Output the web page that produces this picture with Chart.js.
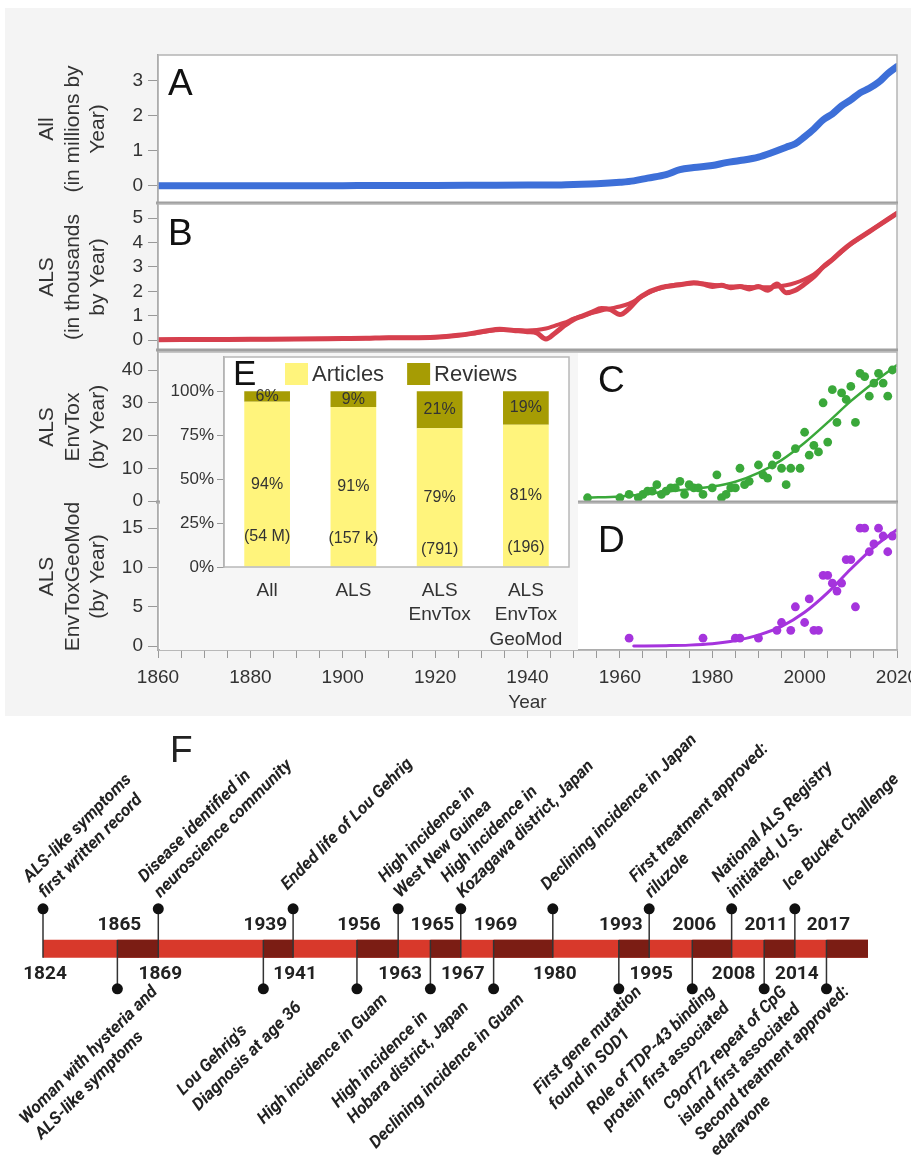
<!DOCTYPE html>
<html>
<head>
<meta charset="utf-8">
<script src="https://cdn.jsdelivr.net/npm/chart.js"></script>
<style>
  body { margin: 0; width: 911px; height: 1170px; position: relative; overflow: hidden; background: #fff; }
  #bg { position: absolute; left: 5px; top: 8px; width: 906px; height: 708px; background: #f4f4f4; }
  canvas { position: absolute; left: 0; }
</style>
</head>
<body>
<div id="bg"></div>
<canvas id="chartA" width="911" height="180" style="top:35px"></canvas>
<canvas id="chartB" width="911" height="175" style="top:190px"></canvas>
<canvas id="chartC" width="911" height="180" style="top:338px"></canvas>
<canvas id="chartD" width="911" height="227" style="top:489px"></canvas>
<canvas id="chartE" width="418" height="297" style="top:353px;left:160px"></canvas>
<canvas id="chartF" width="911" height="454" style="top:716px"></canvas>
<script>
// A: all publications (millions per year)
const yearsA = [1860,1870,1880,1890,1900,1910,1920,1930,1940,1945,1950,1955,1960,1963,1966,1970,1973,1976,1980,1983,1986,1990,1993,1996,1998,2000,2002,2004,2006,2008,2010,2012,2014,2016,2018,2020];
const allPubs = [0,0,0,0,0.005,0.01,0.01,0.015,0.02,0.02,0.04,0.06,0.1,0.14,0.22,0.32,0.46,0.52,0.58,0.66,0.72,0.82,0.95,1.1,1.2,1.4,1.62,1.88,2.05,2.28,2.45,2.65,2.78,2.95,3.2,3.4];

// B: ALS publications (thousands per year), two overlapping traces
const yearsB = [1860,1870,1880,1890,1900,1905,1910,1915,1920,1925,1928,1931,1934,1937,1940,1942,1944,1946,1948,1950,1952,1954,1956,1958,1960,1962,1964,1966,1968,1970,1972,1974,1976,1978,1980,1982,1984,1986,1988,1990,1992,1994,1996,1998,2000,2002,2004,2006,2008,2010,2012,2014,2016,2018,2020];
const alsPubs = [0.02,0.03,0.04,0.05,0.07,0.08,0.1,0.1,0.12,0.2,0.28,0.38,0.45,0.4,0.35,0.3,0.05,0.3,0.6,0.85,1.0,1.15,1.3,1.25,1.05,1.3,1.7,1.95,2.1,2.2,2.25,2.3,2.35,2.3,2.2,2.25,2.15,2.2,2.1,2.2,2.05,2.3,1.95,2.05,2.3,2.6,3.0,3.3,3.65,3.95,4.2,4.45,4.7,4.95,5.2];
const alsSmooth = [0.02,0.03,0.04,0.05,0.07,0.08,0.1,0.1,0.12,0.2,0.27,0.36,0.42,0.42,0.4,0.42,0.48,0.6,0.72,0.88,1.0,1.12,1.22,1.3,1.38,1.5,1.7,1.92,2.08,2.2,2.27,2.3,2.33,2.32,2.27,2.24,2.2,2.2,2.18,2.17,2.17,2.2,2.25,2.35,2.5,2.7,3.0,3.3,3.62,3.93,4.2,4.45,4.7,4.95,5.2];

// C: ALS EnvTox per year
const yearsC = [1953,1960,1962,1964,1965,1966,1967,1968,1969,1970,1971,1972,1973,1974,1975,1976,1977,1978,1980,1981,1982,1983,1984,1985,1986,1987,1988,1990,1991,1992,1993,1994,1995,1996,1997,1998,1999,2000,2001,2002,2003,2004,2005,2006,2007,2008,2009,2010,2011,2012,2013,2014,2015,2016,2017,2018,2019];
const envTox = [1,1,2,1,2,3,3,5,2,3,4,4,6,2,5,4,4,2,4,8,1,2,4,4,10,5,6,11,8,7,11,14,10,5,10,16,10,21,14,17,15,30,18,34,24,33,31,35,24,39,38,32,36,39,36,32,40];
const yearsFitC = [1953,1960,1965,1970,1975,1980,1985,1990,1995,2000,2005,2010,2015,2020];
const fitC = [1,1.4,2,2.9,3.6,4.4,5.9,8.6,12.5,17.8,24,30.5,36.2,41.5];

// D: ALS EnvTox GeoMod per year
const yearsD = [1962,1978,1985,1986,1990,1994,1995,1997,1998,2000,2001,2002,2003,2004,2005,2006,2007,2008,2009,2010,2011,2012,2013,2014,2015,2016,2017,2018,2019];
const geoMod = [1,1,1,1,1,2,3,2,5,3,6,2,2,9,9,8,7,8,11,11,5,15,15,12,13,15,14,12,14];
const yearsFitD = [1963,1970,1975,1980,1985,1990,1995,2000,2005,2010,2015,2020];
const fitD = [0,0.05,0.12,0.3,0.7,1.4,2.5,4.3,6.8,9.8,12.6,14.8];

// E: share of articles / reviews
const insetCats = [['All'], ['ALS'], ['ALS', 'EnvTox'], ['ALS', 'EnvTox', 'GeoMod']];
const articlePct = [94, 91, 79, 81];
const reviewPct = [6, 9, 21, 19];
const totalCounts = ['(54 M)', '(157 k)', '(791)', '(196)'];

// F: timeline (slot = position along the schematic bar)
const evYears = [1824,1865,1869,1939,1941,1956,1963,1965,1967,1969,1980,1993,1995,2006,2008,2011,2014,2017];
const evSlot = [0,2.4,3.72,7.11,8.07,10.13,11.46,12.5,13.48,14.54,16.45,18.58,19.56,20.95,22.22,23.27,24.26,25.28];
const evSide = [1,-1,1,-1,1,-1,1,-1,1,-1,1,-1,1,-1,1,-1,1,-1];
const evText = [
  ['ALS-like symptoms', 'first written record'],
  ['Woman with hysteria and', 'ALS-like symptoms'],
  ['Disease identified in', 'neuroscience community'],
  ["Lou Gehrig's", 'Diagnosis at age 36'],
  ['Ended life of Lou Gehrig'],
  ['High incidence in Guam'],
  ['High incidence in', 'West New Guinea'],
  ['High incidence in', 'Hobara district, Japan'],
  ['High incidence in', 'Kozagawa district, Japan'],
  ['Declining incidence in Guam'],
  ['Declining incidence in Japan'],
  ['First gene mutation', 'found in SOD1'],
  ['First treatment approved:', 'riluzole'],
  ['Role of TDP-43 binding', 'protein first associated'],
  ['National ALS Registry', 'initiated, U.S.'],
  ['C9orf72 repeat of CpG', 'island first associated'],
  ['Ice Bucket Challenge'],
  ['Second treatment approved:', 'edaravone']
];
const timelineEnd = 26.62;

const FONT = "'Liberation Sans', Arial, sans-serif";
const BLUE = '#3d6fd8', RED = '#d6404e', GREEN = '#3aa83a', PURPLE = '#a534dd';
const YELLOW = '#fff47c', OLIVE = '#a69c04';
const BAR_RED = '#d8392b', BAR_DARK = '#7b1d14';

const pts = (xs, ys) => xs.map((x, i) => ({x, y: ys[i]}));

const framePlugin = {
  id: 'panelFrame',
  beforeDraw(chart) {
    const {ctx, chartArea: a} = chart;
    ctx.save();
    ctx.fillStyle = '#fff';
    ctx.fillRect(a.left, a.top, a.width, a.height);
    ctx.restore();
  },
  afterDraw(chart, args, o) {
    const {ctx, chartArea: a} = chart;
    ctx.save();
    ctx.strokeStyle = '#b4b4b4';
    ctx.lineWidth = 1.5;
    ctx.strokeRect(a.left, a.top, a.width, a.height);
    if (o.sep) {
      ctx.strokeStyle = '#a0a0a0';
      ctx.lineWidth = 3;
      ctx.beginPath();
      ctx.moveTo(a.left - 2, a.bottom);
      ctx.lineTo(a.right + 1, a.bottom);
      ctx.stroke();
    }
    ctx.fillStyle = '#111';
    ctx.font = '37px ' + FONT;
    ctx.fillText(o.letter, a.left + o.dx, a.top + o.dy);
    ctx.restore();
  }
};

function xAxis(show) {
  return {
    type: 'linear', min: 1860, max: 2020, display: show,
    ticks: {
      stepSize: 5, maxTicksLimit: 40, autoSkip: false, maxRotation: 0, padding: 8,
      color: '#333', font: {family: FONT, size: 19},
      callback: v => (v % 20 === 0 ? v : '')
    },
    grid: {drawOnChartArea: false, tickLength: 8, color: '#999'},
    border: {color: '#999', width: 1.5},
    title: {display: show, text: 'Year', color: '#333', font: {family: FONT, size: 19}, padding: {top: 0, bottom: 2}},
    afterFit: s => { if (show) { s.height = 66; s.paddingLeft = 0; s.paddingRight = 0; } }
  };
}

function yAxis(min, max, step, every, title) {
  return {
    min, max,
    ticks: {
      stepSize: step, maxTicksLimit: 20, includeBounds: false, padding: 5,
      color: '#333', font: {family: FONT, size: 19},
      callback: v => (Math.abs(v / every - Math.round(v / every)) < 1e-6 ? v : '')
    },
    grid: {drawOnChartArea: false, tickLength: 10, color: '#999'},
    border: {color: '#999', width: 1.5},
    title: {display: true, text: title, color: '#333', font: {family: FONT, size: 21, lineHeight: 1.2}, padding: {top: 3, bottom: 0}},
    afterFit: s => { s.width = 126; s.paddingTop = 0; s.paddingBottom = 0; }
  };
}

function panel(id, datasets, y, frame, pad, showX) {
  return new Chart(document.getElementById(id), {
    type: 'line',
    data: {datasets},
    options: {
      responsive: false, animation: false, devicePixelRatio: 1,
      layout: {padding: {left: 32, right: 14, top: pad[0], bottom: pad[1]}},
      plugins: {legend: {display: false}, tooltip: {enabled: false}, panelFrame: frame},
      scales: {x: xAxis(showX), y}
    },
    plugins: [framePlugin]
  });
}

const thick = (data, color, w) => ({
  data, borderColor: color, borderWidth: w, pointRadius: 0,
  cubicInterpolationMode: 'monotone', borderCapStyle: 'round', borderJoinStyle: 'round'
});
const dots = (data, color) => ({
  data, showLine: false, pointRadius: 4.4, pointBorderWidth: 0,
  pointBackgroundColor: color, borderColor: color
});

panel('chartA', [thick(pts(yearsA, allPubs), BLUE, 7)],
  yAxis(-0.49, 3.73, 1, 1, ['All', '(in millions by', 'Year)']),
  {letter: 'A', dx: 10, dy: 40, sep: true}, [20, 12], false);

panel('chartB', [thick(pts(yearsB, alsSmooth), RED, 4), thick(pts(yearsB, alsPubs), RED, 5)],
  yAxis(-0.4, 5.58, 0.5, 1, ['ALS', '(in thousands', 'by Year)']),
  {letter: 'B', dx: 10, dy: 41, sep: true}, [14, 15], false);

panel('chartC', [dots(pts(yearsC, envTox), GREEN), thick(pts(yearsFitC, fitC), GREEN, 2.5)],
  yAxis(-0.3, 45.5, 10, 10, ['ALS', 'EnvTox', '(by Year)']),
  {letter: 'C', dx: 440, dy: 40, sep: true}, [14, 16], false);

panel('chartD', [dots(pts(yearsD, geoMod), PURPLE), thick(pts(yearsFitD, fitD), PURPLE, 3)],
  yAxis(-0.5, 18.2, 5, 5, ['ALS', 'EnvToxGeoMod', '(by Year)']),
  {letter: 'D', dx: 440, dy: 49, sep: false}, [14, 0], true);

// inset E
const insetPlugin = {
  id: 'insetDecor',
  beforeDraw(chart) {
    const {ctx, chartArea: a, width, height} = chart;
    ctx.save();
    ctx.fillStyle = '#f6f6f6';
    ctx.fillRect(0, 0, width, height);
    ctx.fillStyle = '#fff';
    ctx.fillRect(a.left, a.top, a.width, a.height);
    ctx.restore();
  },
  afterDatasetsDraw(chart) {
    const {ctx} = chart;
    ctx.save();
    ctx.font = '16px ' + FONT;
    ctx.fillStyle = '#333';
    ctx.textAlign = 'center';
    ctx.textBaseline = 'middle';
    chart.data.datasets.forEach((ds, di) => {
      chart.getDatasetMeta(di).data.forEach((bar, i) => {
        const cy = (bar.y + bar.base) / 2;
        ctx.fillText(ds.data[i] + '%', bar.x, cy);
        if (di === 0) ctx.fillText(totalCounts[i], bar.x, cy + 52);
      });
    });
    ctx.restore();
  },
  afterDraw(chart) {
    const {ctx, chartArea: a} = chart;
    ctx.save();
    ctx.strokeStyle = '#b8b8b8';
    ctx.lineWidth = 1.5;
    ctx.strokeRect(a.left, a.top, a.width, a.height);
    ctx.fillStyle = '#111';
    ctx.font = '35px ' + FONT;
    ctx.fillText('E', a.left + 9, a.top + 28);
    ctx.font = '22px ' + FONT;
    ctx.textBaseline = 'middle';
    let lx = a.left + 61;
    chart.data.datasets.forEach(ds => {
      ctx.fillStyle = ds.backgroundColor;
      ctx.fillRect(lx, a.top + 6, 23, 22);
      ctx.fillStyle = '#333';
      ctx.fillText(ds.label, lx + 27, a.top + 18);
      lx += 27 + ctx.measureText(ds.label).width + 23;
    });
    ctx.restore();
  }
};

new Chart(document.getElementById('chartE'), {
  type: 'bar',
  data: {
    labels: insetCats,
    datasets: [
      {label: 'Articles', data: articlePct, backgroundColor: YELLOW},
      {label: 'Reviews', data: reviewPct, backgroundColor: OLIVE}
    ]
  },
  options: {
    responsive: false, animation: false, devicePixelRatio: 1,
    layout: {padding: {left: 0, right: 9, top: 4, bottom: 0}},
    datasets: {bar: {barPercentage: 0.53, categoryPercentage: 1}},
    plugins: {legend: {display: false}, tooltip: {enabled: false}},
    scales: {
      x: {
        stacked: true, grid: {display: false}, border: {display: false},
        ticks: {color: '#333', font: {family: FONT, size: 19, lineHeight: 1.3}, padding: 3, maxRotation: 0, autoSkip: false},
        afterFit: s => { s.height = 83; s.paddingLeft = 0; s.paddingRight = 0; }
      },
      y: {
        stacked: true, min: 0, max: 119.5,
        ticks: {stepSize: 25, includeBounds: false, padding: 3, color: '#333', font: {family: FONT, size: 17},
          callback: v => (v <= 100 ? v + '%' : '')},
        grid: {drawOnChartArea: false, tickLength: 7, color: '#999'},
        border: {color: '#aaa', width: 1.5},
        afterFit: s => { s.width = 64; s.paddingTop = 0; s.paddingBottom = 0; }
      }
    }
  },
  plugins: [insetPlugin]
});

// timeline F
const darkSegs = [];
const stems = [];
evSlot.forEach((s, i) => {
  if (evSide[i] < 0) {
    const end = i + 1 < evSlot.length ? evSlot[i + 1] : timelineEnd;
    darkSegs.push({x: s, y: 0}, {x: end, y: 0}, {x: end, y: null});
  }
  stems.push({x: s, y: evSide[i]}, {x: s, y: -evSide[i] * 0.22}, {x: s, y: null});
});

const timelinePlugin = {
  id: 'timelineText',
  afterDatasetsDraw(chart) {
    const {ctx, scales: {x, y}, width} = chart;
    const y0 = y.getPixelForValue(0);
    const k = Math.SQRT1_2;
    const gap = 22;
    ctx.save();
    ctx.fillStyle = '#222';
    ctx.font = '37px ' + FONT;
    ctx.fillText('F', 170, 46);
    ctx.font = '700 19px Roboto, ' + FONT;
    ctx.textAlign = 'center';
    ctx.textBaseline = 'middle';
    evYears.forEach((yr, i) => {
      const px = x.getPixelForValue(evSlot[i]) + 2;
      ctx.fillText(String(yr), px, evSide[i] > 0 ? y0 + 25 : y0 - 24);
    });
    ctx.font = 'italic 700 17px Roboto, ' + FONT;
    ctx.textAlign = 'left';
    ctx.textBaseline = 'alphabetic';
    evText.forEach((lines, i) => {
      const px = x.getPixelForValue(evSlot[i]);
      const py = y.getPixelForValue(evSide[i]);
      const n = lines.length;
      const widths = lines.map(t => ctx.measureText(t).width);
      let x0, shift = 0;
      const mid = evSide[i] > 0 ? -17 : 30;
      const vs = lines.map((t, j) => mid + gap * (j - (n - 1) / 2));
      if (evSide[i] > 0) {
        x0 = 9;
        // keep the right end inside the page
        const right = Math.max(...widths.map((w, j) => px + (x0 + w + vs[j]) * k));
        if (right > width - 3) shift = width - 3 - right;
      } else {
        x0 = 14 - Math.max(...widths);
        // keep the left start inside the page
        const left = px + (x0 + vs[0]) * k;
        if (left < 26) shift = 26 - left;
      }
      ctx.save();
      ctx.translate(px + shift, py);
      ctx.rotate(-Math.PI / 4);
      lines.forEach((t, j) => ctx.fillText(t, x0, vs[j]));
      ctx.restore();
    });
    ctx.restore();
  }
};

new Chart(document.getElementById('chartF'), {
  type: 'line',
  data: {
    datasets: [
      {data: [{x: 0, y: 0}, {x: timelineEnd, y: 0}], borderColor: BAR_RED, borderWidth: 18, borderCapStyle: 'butt', pointRadius: 0, order: 4, clip: false},
      {data: darkSegs, borderColor: BAR_DARK, borderWidth: 18, borderCapStyle: 'butt', pointRadius: 0, spanGaps: false, order: 3, clip: false},
      {data: stems, borderColor: '#333', borderWidth: 1.5, pointRadius: 0, spanGaps: false, order: 2, clip: false},
      {data: evSlot.map((s, i) => ({x: s, y: evSide[i]})), showLine: false, pointRadius: 5.5, pointBorderWidth: 0,
        pointBackgroundColor: '#111', borderColor: '#111', order: 1, clip: false}
    ]
  },
  options: {
    responsive: false, animation: false, devicePixelRatio: 1,
    layout: {padding: {left: 43, right: 43, top: 0, bottom: 0}},
    plugins: {legend: {display: false}, tooltip: {enabled: false}},
    scales: {
      x: {type: 'linear', min: 0, max: timelineEnd, display: false},
      y: {min: -5.39, max: 5.683, display: false}
    }
  },
  plugins: [timelinePlugin]
});
</script>
</body>
</html>
